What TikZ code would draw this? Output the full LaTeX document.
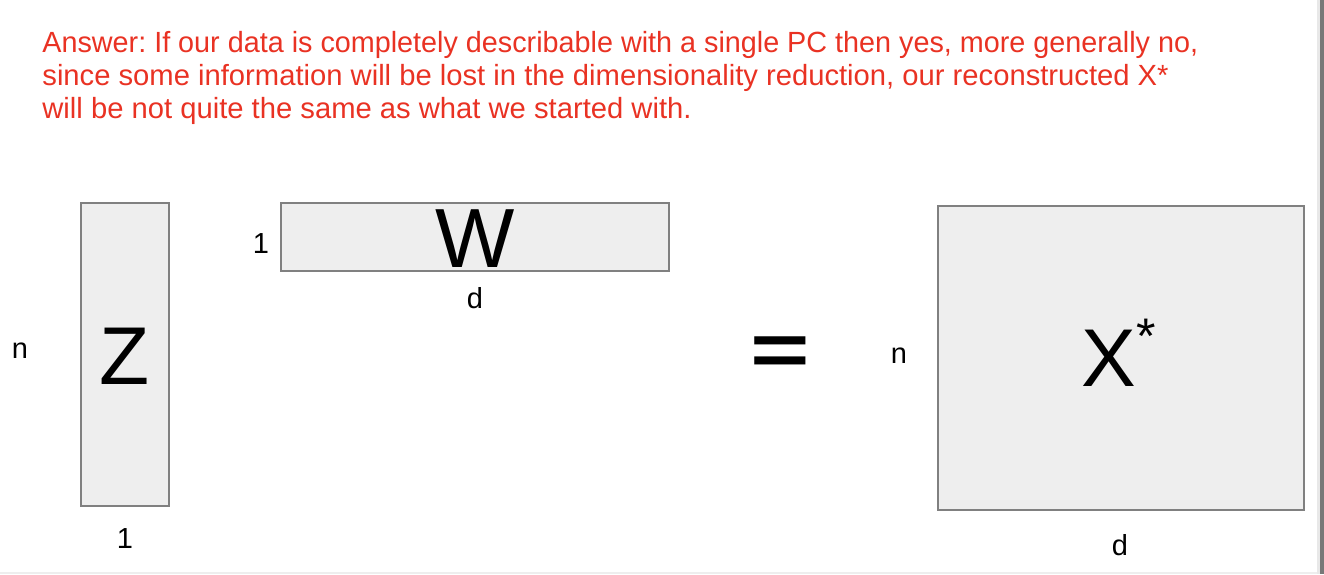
\documentclass[tikz,border=0pt]{standalone}
\usepackage{fontspec}
\setmainfont{Liberation Sans}
\frenchspacing
\definecolor{ansred}{RGB}{233,50,35}
\definecolor{boxfill}{RGB}{238,238,238}
\definecolor{boxline}{RGB}{128,128,128}
\definecolor{edgelight}{RGB}{232,232,232}
\definecolor{edgedark}{RGB}{120,120,120}
\begin{document}
\begin{tikzpicture}[x=0.5pt,y=-0.5pt,
  mat/.style={draw=boxline,fill=boxfill,line width=0.8pt},
  dimlab/.style={anchor=base,inner sep=0pt,font=\fontsize{14.5pt}{17pt}\selectfont},
  biglab/.style={anchor=base,inner sep=0pt,font=\fontsize{41pt}{48pt}\selectfont},
  ans/.style={anchor=base west,inner sep=0pt,text=ansred,font=\fontsize{14.6pt}{17pt}\selectfont}]
\useasboundingbox (0,0) rectangle (1324,574);
% window edges
\fill[boxfill] (0,572) rectangle (1318,574);
\fill[edgelight] (1317,0) rectangle (1320,574);
\fill[edgedark] (1320,0) rectangle (1324,574);
% answer text
\node[ans] (l1) at (42,52) {\scalebox{0.985}[1]{Answer: If our data is completely describable with a single PC then yes, more generally no,}};
\node[ans] (l2) at (42,85) {since some information will be lost in the dimensionality reduction, our reconstructed X*};
\node[ans] (l3) at (42,118) {will be not quite the same as what we started with.};
% matrices
\draw[mat] (81,203) rectangle (169,506);
\node[biglab] (Z) at (125,384) {Z};
\node[dimlab] (nZ) at (20,358) {n};
\node[dimlab] (oneZ) at (125,548) {1};
\draw[mat] (281,203) rectangle (669,271);
\node[biglab,font=\fontsize{42pt}{48pt}\selectfont] (W) at (475,267) {W};
\node[dimlab] (oneW) at (261,253) {1};
\node[dimlab] (dW) at (475,308) {d};
\node[anchor=base,inner sep=0pt,font=\bfseries\fontsize{51pt}{60pt}\selectfont] (eq) at (780,375) {\scalebox{1}[0.73]{=}};
\node[dimlab] (nX) at (899,363) {n};
\draw[mat] (938,206) rectangle (1304,510);
\node[biglab] (X) at (1119,386) {X\raisebox{16.5pt}{\fontsize{25pt}{28pt}\selectfont *}};
\node[dimlab] (dX) at (1120,555) {d};
\end{tikzpicture}
\end{document}
